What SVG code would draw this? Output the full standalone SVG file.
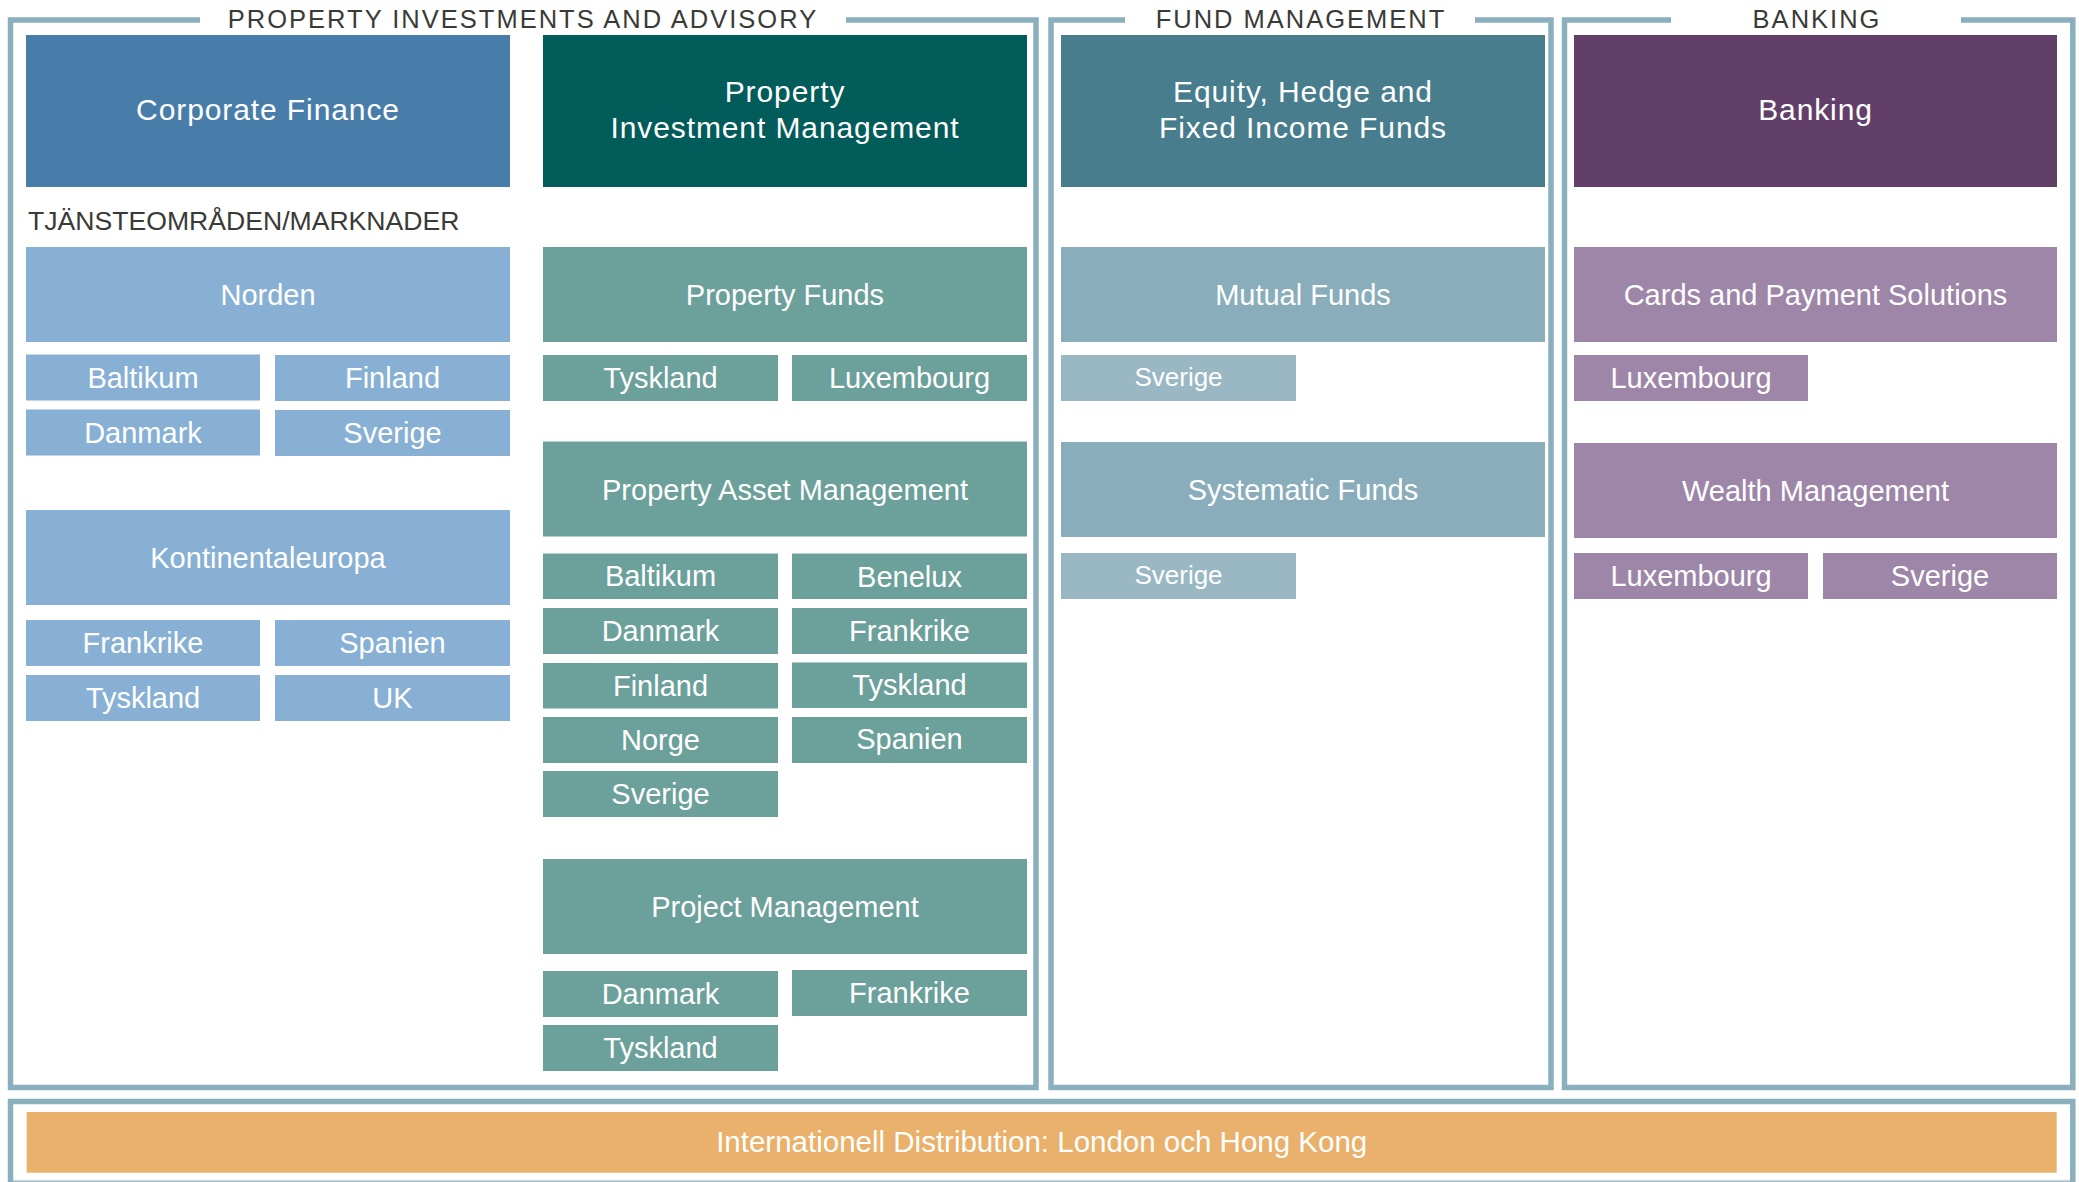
<svg xmlns="http://www.w3.org/2000/svg" width="2079" height="1182" viewBox="0 0 2079 1182">
<style>
  .frame{fill:none;stroke:#8aafbd;stroke-width:5.5;stroke-linejoin:miter;stroke-linecap:butt}
  .title{font-family:"Liberation Sans",Arial,sans-serif;font-size:25.5px;letter-spacing:2px;fill:#3a3a36;text-anchor:middle}
  .sub{font-family:"Liberation Sans",Arial,sans-serif;font-size:26.6px;fill:#3a3a36}
  .h{font-family:"Liberation Sans",Arial,sans-serif;font-size:30px;letter-spacing:0.9px;fill:#fff;text-anchor:middle}
  .t{font-family:"Liberation Sans",Arial,sans-serif;font-size:29px;fill:#fff;text-anchor:middle}
  .ts{font-family:"Liberation Sans",Arial,sans-serif;font-size:26px;fill:#fff;text-anchor:middle}
  .cf{fill:#487daa}.pim{fill:#025c5a}.eq{fill:#477d8d}.bk{fill:#623f68}
  .lb{fill:#87b0d4}.tl{fill:#6ca09a}.fd{fill:#89adbb}.fs{fill:#9ab7c4}.pp{fill:#9d86a8}.or{fill:#e9b16b}
</style>
<rect width="2079" height="1182" fill="#fff"/>

<g id="frames">
  <path class="frame" d="M200,20 H10.5 V1087.5 H1036 V20 H846"/>
  <path class="frame" d="M1125,20 H1051 V1087.5 H1551 V20 H1475"/>
  <path class="frame" d="M1671,20 H1564.5 V1087.5 H2072.8 V20 H1961"/>
  <rect class="frame" x="10.5" y="1101.5" width="2062.3" height="82"/>
  <line x1="13.5" y1="1180.5" x2="2070" y2="1180.5" stroke="#cfdbe1" stroke-width="1.5"/>
</g>

<g id="titles">
  <text class="title" x="523" y="28">PROPERTY INVESTMENTS AND ADVISORY</text>
  <text class="title" x="1301" y="28">FUND MANAGEMENT</text>
  <text class="title" x="1817" y="28">BANKING</text>
  <text class="sub" x="28" y="230">TJÄNSTEOMRÅDEN/MARKNADER</text>
</g>

<g id="connectors"></g>

<!-- Column 1 -->
<g id="corporate-finance"><rect class="cf" x="26" y="35" width="484" height="152"/><text class="h" x="268" y="119.5">Corporate Finance</text></g>
<g id="norden"><rect class="lb" x="26" y="247" width="484" height="95"/><text class="t" x="268" y="305">Norden</text></g>
<g id="cf-baltikum"><rect class="lb" x="26" y="354.5" width="234" height="46"/><text class="t" x="143" y="387.5">Baltikum</text></g>
<g id="cf-finland"><rect class="lb" x="275" y="355" width="235" height="46"/><text class="t" x="392.5" y="388">Finland</text></g>
<g id="cf-danmark"><rect class="lb" x="26" y="409.5" width="234" height="46"/><text class="t" x="143" y="442.5">Danmark</text></g>
<g id="cf-sverige"><rect class="lb" x="275" y="410" width="235" height="46"/><text class="t" x="392.5" y="443">Sverige</text></g>
<g id="kontinentaleuropa"><rect class="lb" x="26" y="510" width="484" height="95"/><text class="t" x="268" y="568">Kontinentaleuropa</text></g>
<g id="cf-frankrike"><rect class="lb" x="26" y="620" width="234" height="46"/><text class="t" x="143" y="653">Frankrike</text></g>
<g id="cf-spanien"><rect class="lb" x="275" y="620" width="235" height="46"/><text class="t" x="392.5" y="653">Spanien</text></g>
<g id="cf-tyskland"><rect class="lb" x="26" y="675" width="234" height="46"/><text class="t" x="143" y="708">Tyskland</text></g>
<g id="cf-uk"><rect class="lb" x="275" y="675" width="235" height="46"/><text class="t" x="392.5" y="708">UK</text></g>

<!-- Column 2 -->
<g id="property-investment-management"><rect class="pim" x="543" y="35" width="484" height="152"/><text class="h" x="785" y="101.5">Property</text><text class="h" x="785" y="138">Investment Management</text></g>
<g id="property-funds"><rect class="tl" x="543" y="247" width="484" height="95"/><text class="t" x="785" y="305">Property Funds</text></g>
<g id="pf-tyskland"><rect class="tl" x="543" y="355" width="235" height="46"/><text class="t" x="660.5" y="388">Tyskland</text></g>
<g id="pf-luxembourg"><rect class="tl" x="792" y="355" width="235" height="46"/><text class="t" x="909.5" y="388">Luxembourg</text></g>
<g id="property-asset-management"><rect class="tl" x="543" y="441.5" width="484" height="95"/><text class="t" x="785" y="500">Property Asset Management</text></g>
<g id="pam-baltikum"><rect class="tl" x="543" y="553.5" width="235" height="45.5"/><text class="t" x="660.5" y="586">Baltikum</text></g>
<g id="pam-benelux"><rect class="tl" x="792" y="553.5" width="235" height="45.5"/><text class="t" x="909.5" y="587">Benelux</text></g>
<g id="pam-danmark"><rect class="tl" x="543" y="608" width="235" height="46"/><text class="t" x="660.5" y="641">Danmark</text></g>
<g id="pam-frankrike"><rect class="tl" x="792" y="608" width="235" height="46"/><text class="t" x="909.5" y="641">Frankrike</text></g>
<g id="pam-finland"><rect class="tl" x="543" y="663" width="235" height="45.5"/><text class="t" x="660.5" y="696">Finland</text></g>
<g id="pam-tyskland"><rect class="tl" x="792" y="662.5" width="235" height="45.5"/><text class="t" x="909.5" y="695">Tyskland</text></g>
<g id="pam-norge"><rect class="tl" x="543" y="717" width="235" height="46"/><text class="t" x="660.5" y="750">Norge</text></g>
<g id="pam-spanien"><rect class="tl" x="792" y="717" width="235" height="46"/><text class="t" x="909.5" y="749">Spanien</text></g>
<g id="pam-sverige"><rect class="tl" x="543" y="771" width="235" height="46"/><text class="t" x="660.5" y="804">Sverige</text></g>
<g id="project-management"><rect class="tl" x="543" y="859" width="484" height="95"/><text class="t" x="785" y="917">Project Management</text></g>
<g id="pm-danmark"><rect class="tl" x="543" y="971" width="235" height="46"/><text class="t" x="660.5" y="1004">Danmark</text></g>
<g id="pm-frankrike"><rect class="tl" x="792" y="970" width="235" height="46"/><text class="t" x="909.5" y="1003">Frankrike</text></g>
<g id="pm-tyskland"><rect class="tl" x="543" y="1025" width="235" height="46"/><text class="t" x="660.5" y="1058">Tyskland</text></g>

<!-- Column 3 -->
<g id="equity-hedge-fixed-income"><rect class="eq" x="1061" y="35" width="484" height="152"/><text class="h" x="1303" y="101.5">Equity, Hedge and</text><text class="h" x="1303" y="138">Fixed Income Funds</text></g>
<g id="mutual-funds"><rect class="fd" x="1061" y="247" width="484" height="95"/><text class="t" x="1303" y="305">Mutual Funds</text></g>
<g id="mf-sverige"><rect class="fs" x="1061" y="355" width="235" height="46"/><text class="ts" x="1178.5" y="386">Sverige</text></g>
<g id="systematic-funds"><rect class="fd" x="1061" y="442" width="484" height="95"/><text class="t" x="1303" y="500">Systematic Funds</text></g>
<g id="sf-sverige"><rect class="fs" x="1061" y="553" width="235" height="46"/><text class="ts" x="1178.5" y="584">Sverige</text></g>

<!-- Column 4 -->
<g id="banking"><rect class="bk" x="1574" y="35" width="483" height="152"/><text class="h" x="1815.5" y="119.5">Banking</text></g>
<g id="cards-payment"><rect class="pp" x="1574" y="247" width="483" height="95"/><text class="t" x="1815.5" y="305">Cards and Payment Solutions</text></g>
<g id="cp-luxembourg"><rect class="pp" x="1574" y="355" width="234" height="46"/><text class="t" x="1691" y="388">Luxembourg</text></g>
<g id="wealth-management"><rect class="pp" x="1574" y="443" width="483" height="95"/><text class="t" x="1815.5" y="501">Wealth Management</text></g>
<g id="wm-luxembourg"><rect class="pp" x="1574" y="553" width="234" height="46"/><text class="t" x="1691" y="586">Luxembourg</text></g>
<g id="wm-sverige"><rect class="pp" x="1823" y="553" width="234" height="46"/><text class="t" x="1940" y="586">Sverige</text></g>

<!-- Bottom bar -->
<g id="international-distribution"><rect class="or" x="26.7" y="1112" width="2030" height="60.7"/><text class="t" x="1041.7" y="1152" style="font-size:29.5px">Internationell Distribution: London och Hong Kong</text></g>
</svg>
